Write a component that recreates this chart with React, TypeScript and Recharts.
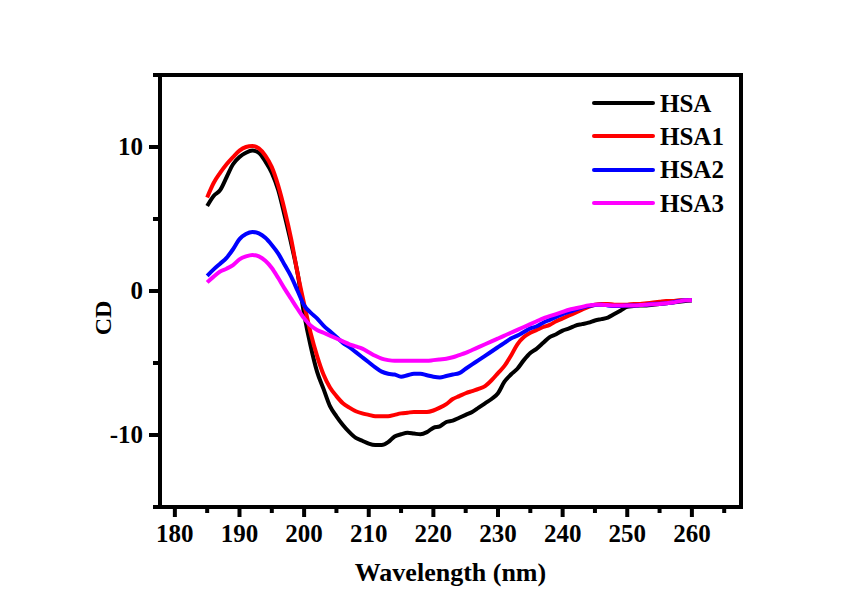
import { Legend, Line, LineChart, ReferenceArea, XAxis, YAxis } from 'recharts';

const wavelength = [
  185, 186, 187, 188, 189, 190, 191, 192, 193, 194, 195, 196, 197, 198, 199, 200, 201, 202, 203,
  204, 205, 206, 207, 208, 209, 210, 211, 212, 213, 214, 215, 216, 217, 218, 219, 220, 221, 222,
  223, 224, 225, 226, 227, 228, 229, 230, 231, 232, 233, 234, 235, 236, 237, 238, 239, 240, 241,
  242, 243, 244, 245, 246, 247, 248, 249, 250, 251, 252, 253, 254, 255, 256, 257, 258, 259, 260
];

const hsa = [
  5.9, 6.6, 7.0, 7.9, 8.8, 9.3, 9.6, 9.75, 9.6, 9.0, 8.2, 7.0, 5.2, 3.3, 1.2, -1.6, -3.8, -5.6,
  -6.8, -8.0, -8.7, -9.3, -9.8, -10.2, -10.4, -10.6, -10.7, -10.7, -10.5, -10.1, -9.95, -9.85,
  -9.9, -9.95, -9.8, -9.5, -9.4, -9.1, -9.0, -8.8, -8.6, -8.4, -8.1, -7.8, -7.5, -7.1, -6.3,
  -5.8, -5.4, -4.8, -4.3, -4.0, -3.6, -3.2, -3.0, -2.75, -2.6, -2.4, -2.3, -2.2, -2.05, -1.95,
  -1.85, -1.6, -1.35, -1.1, -1.05, -1.0, -1.0, -0.95, -0.9, -0.85, -0.8, -0.75, -0.7, -0.65
];

const hsa1 = [
  6.5, 7.5, 8.2, 8.8, 9.3, 9.75, 10.0, 10.07, 9.9, 9.4, 8.6, 7.3, 5.6, 3.6, 1.2, -0.9, -2.9,
  -4.5, -5.8, -6.7, -7.3, -7.8, -8.1, -8.35, -8.5, -8.6, -8.7, -8.7, -8.7, -8.6, -8.5, -8.45,
  -8.4, -8.4, -8.4, -8.3, -8.1, -7.85, -7.5, -7.3, -7.1, -6.95, -6.8, -6.6, -6.2, -5.7, -5.2,
  -4.5, -3.7, -3.2, -2.9, -2.7, -2.5, -2.35, -2.1, -1.9, -1.7, -1.5, -1.3, -1.1, -0.95, -0.9,
  -0.9, -0.95, -0.95, -0.95, -0.9, -0.9, -0.85, -0.8, -0.75, -0.7, -0.7, -0.65, -0.65, -0.65
];

const hsa2 = [
  1.05, 1.5, 1.9, 2.3, 2.9, 3.6, 3.95, 4.1, 4.0, 3.7, 3.2, 2.6, 1.8, 1.0, 0.0, -1.0, -1.5, -1.9,
  -2.4, -2.8, -3.2, -3.6, -3.9, -4.25, -4.6, -4.95, -5.3, -5.6, -5.75, -5.8, -5.95, -5.85, -5.75,
  -5.75, -5.85, -5.95, -6.0, -5.9, -5.8, -5.7, -5.4, -5.1, -4.8, -4.5, -4.2, -3.9, -3.6, -3.3,
  -3.1, -2.85, -2.6, -2.45, -2.2, -2.0, -1.8, -1.6, -1.45, -1.3, -1.15, -1.05, -0.98, -0.95,
  -1.0, -1.05, -1.05, -1.0, -1.0, -0.98, -0.95, -0.9, -0.88, -0.85, -0.8, -0.7, -0.65, -0.65
];

const hsa3 = [
  0.6, 1.0, 1.35, 1.55, 1.8, 2.2, 2.4, 2.5, 2.4, 2.1, 1.6, 0.9, 0.15, -0.55, -1.25, -1.9, -2.4,
  -2.7, -2.9, -3.1, -3.3, -3.5, -3.7, -3.85, -4.0, -4.25, -4.5, -4.7, -4.8, -4.85, -4.85, -4.85,
  -4.85, -4.85, -4.85, -4.8, -4.75, -4.7, -4.6, -4.45, -4.3, -4.1, -3.9, -3.7, -3.5, -3.3, -3.1,
  -2.9, -2.7, -2.5, -2.3, -2.1, -1.9, -1.75, -1.6, -1.45, -1.3, -1.2, -1.1, -1.0, -0.95, -0.95,
  -0.98, -1.0, -1.0, -1.0, -1.0, -0.98, -0.95, -0.92, -0.9, -0.85, -0.8, -0.72, -0.65, -0.62
];

const xTicks = [180, 185, 190, 195, 200, 205, 210, 215, 220, 225, 230, 235, 240, 245, 250, 255, 260, 265];
const yTicks = [-15, -10, -5, 0, 5, 10, 15];

const seriesNames = ['HSA', 'HSA1', 'HSA2', 'HSA3'];
const seriesColors = ['#000000', '#ff0000', '#0000ff', '#ff00ff'];
const seriesValues = [hsa, hsa1, hsa2, hsa3];

const data = wavelength.map((w, i) => {
  const row: Record<string, number> = { wavelength: w };
  seriesNames.forEach((n, k) => {
    row[n] = seriesValues[k][i];
  });
  return row;
});

const font = '"Liberation Serif", "Times New Roman", serif';

const XTick = (props: any) => {
  const { x, y, payload } = props;
  const major = payload.value % 10 === 0;
  return (
    <g>
      <line x1={x} y1={y} x2={x} y2={y + (major ? 10 : 6)} stroke="#000" strokeWidth={4} />
      {major && (
        <text x={x} y={y + 35} textAnchor="middle" fontFamily={font} fontWeight="bold" fontSize={25} fill="#000">
          {payload.value}
        </text>
      )}
    </g>
  );
};

const YTick = (props: any) => {
  const { x, y, payload } = props;
  const major = payload.value % 10 === 0;
  return (
    <g>
      <line x1={x} y1={y} x2={x - (major ? 11 : 7)} y2={y} stroke="#000" strokeWidth={4} />
      {major && Math.abs(payload.value) < 15 && (
        <text x={x - 17} y={y + 8} textAnchor="end" fontFamily={font} fontWeight="bold" fontSize={25} fill="#000">
          {payload.value}
        </text>
      )}
    </g>
  );
};

// "CD" sits a little below the zero line in the original
const CDLabel = () => (
  <text
    transform="translate(103,310) rotate(-90)"
    textAnchor="middle"
    fontFamily={font}
    fontWeight="bold"
    fontSize={24}
    fill="#000"
  >
    CD
  </text>
);

const LegendBox = () => (
  <div style={{ fontFamily: font, fontWeight: 'bold', fontSize: 25, color: '#000' }}>
    {seriesNames.map((n, i) => (
      <div key={n} style={{ display: 'flex', alignItems: 'center', height: 33.3 }}>
        <span
          style={{
            display: 'inline-block',
            width: 63,
            height: 4,
            borderRadius: 2,
            background: seriesColors[i],
            marginRight: 5
          }}
        />
        <span style={{ lineHeight: '25px' }}>{n}</span>
      </div>
    ))}
  </div>
);

const App = () => {
  return (
    <div>
      <LineChart width={829} height={585} data={data} margin={{ top: 67, right: 96, left: 0, bottom: 0 }}>
        <XAxis
          dataKey="wavelength"
          type="number"
          domain={[177.7, 267.6]}
          ticks={xTicks}
          interval={0}
          height={86}
          tickSize={0}
          tickMargin={0}
          tickLine={false}
          axisLine={{ stroke: '#000', strokeWidth: 4 }}
          tick={<XTick />}
          label={{
            value: 'Wavelength (nm)',
            position: 'insideBottom',
            offset: 12,
            style: { fontFamily: font, fontWeight: 'bold', fontSize: 26, fill: '#000' }
          }}
        />
        <YAxis
          type="number"
          domain={[-15, 15]}
          ticks={yTicks}
          interval={0}
          width={152}
          tickSize={0}
          tickMargin={0}
          tickLine={false}
          axisLine={{ stroke: '#000', strokeWidth: 4 }}
          tick={<YTick />}
          label={{ content: () => <CDLabel /> }}
        />
        <ReferenceArea
          x1={177.7}
          x2={267.6}
          y1={-15}
          y2={15}
          fill="none"
          stroke="#000"
          strokeWidth={4}
          fillOpacity={0}
          ifOverflow="visible"
        />
        {seriesNames.map((n, i) => (
          <Line
            key={n}
            type="monotone"
            dataKey={n}
            stroke={seriesColors[i]}
            strokeWidth={4}
            dot={false}
            activeDot={false}
            isAnimationActive={false}
          />
        ))}
        <Legend
          layout="vertical"
          align="center"
          verticalAlign="middle"
          content={<LegendBox />}
          wrapperStyle={{ top: 78.5, left: 584, width: 150 }}
        />
      </LineChart>
    </div>
  );
};

export default App;
